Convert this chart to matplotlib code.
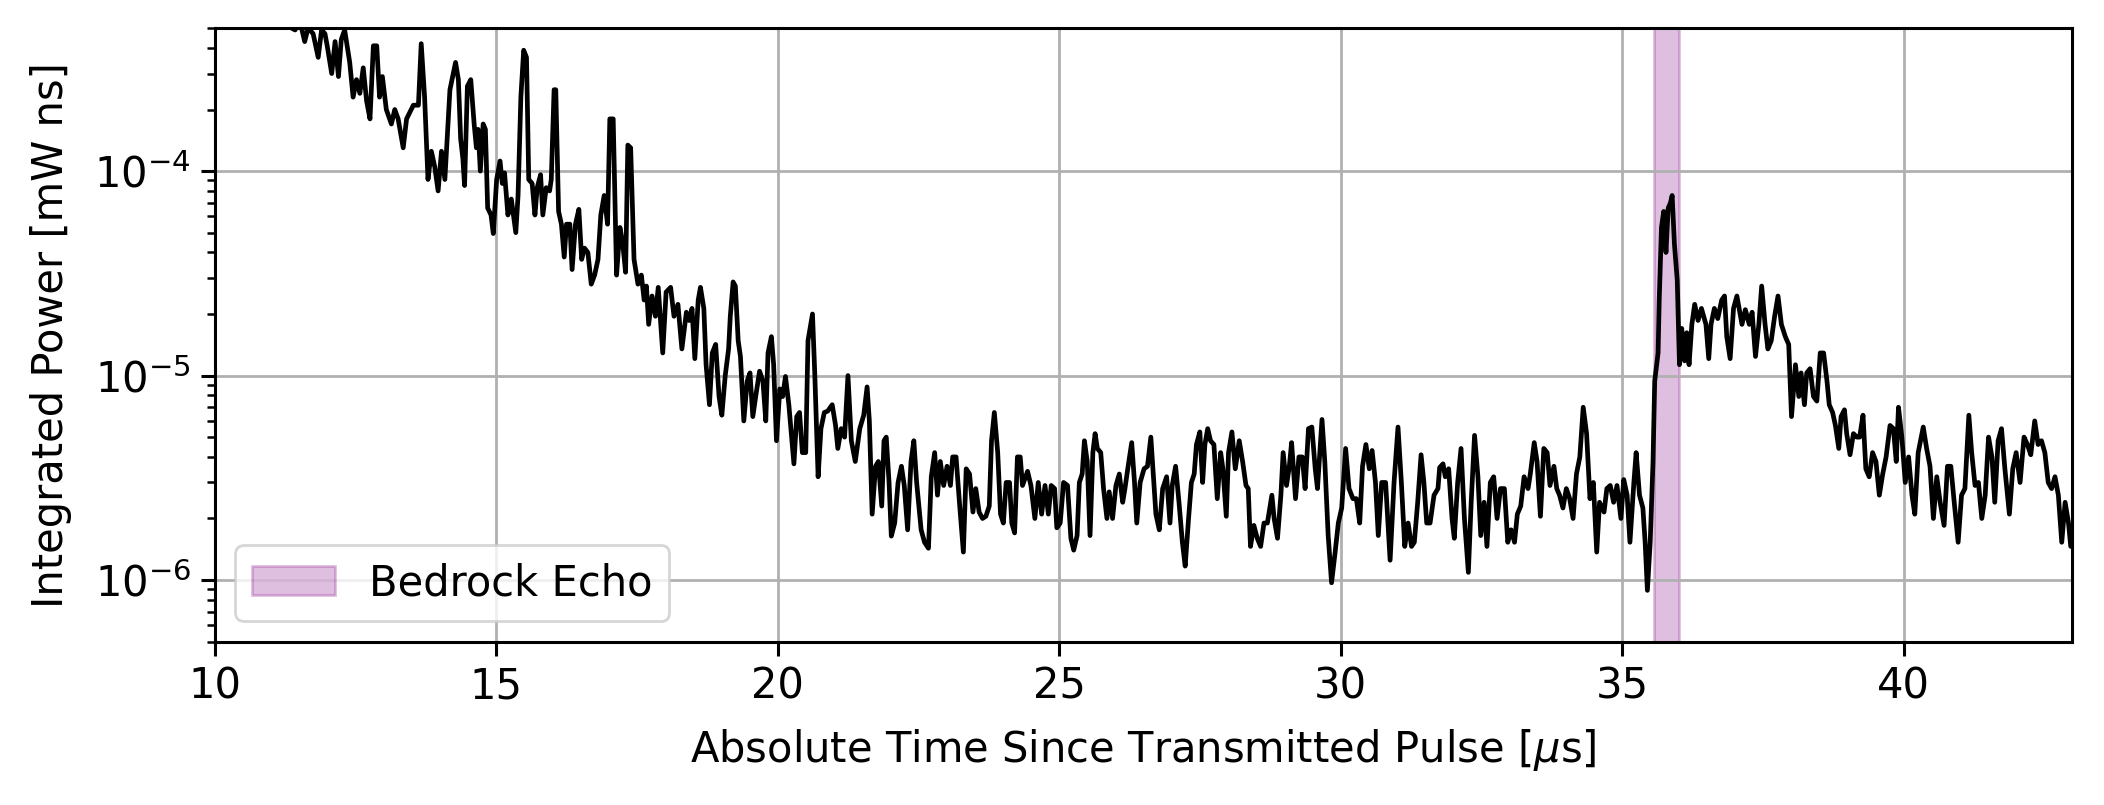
import numpy as np
import matplotlib.pyplot as plt

# trace, time in microseconds, power in mW ns
t_us = [
    10.00, 10.40, 10.80, 11.10, 11.30, 11.37, 11.43, 11.51, 11.60, 11.66, 11.75, 11.84, 11.90, 11.96, 12.00,
    12.08, 12.14, 12.20, 12.25, 12.31, 12.40, 12.46, 12.52, 12.58, 12.64, 12.70, 12.76, 12.82, 12.88,
    12.93, 12.98, 13.05, 13.14, 13.20, 13.26, 13.35, 13.41, 13.53, 13.62, 13.67, 13.73, 13.79, 13.85,
    13.91, 13.97, 14.03, 14.09,
    14.18, 14.24, 14.28, 14.33, 14.37, 14.41, 14.44, 14.49, 14.55, 14.61, 14.65, 14.68, 14.72, 14.77,
    14.81, 14.85, 14.91, 14.95, 15.01, 15.07, 15.11, 15.15, 15.21, 15.27, 15.35, 15.39, 15.44, 15.49,
    15.54, 15.58, 15.64, 15.69, 15.73, 15.79, 15.83, 15.89, 15.95, 15.98, 16.03, 16.06, 16.11, 16.16,
    16.21, 16.25, 16.31, 16.35, 16.41, 16.47, 16.52, 16.57, 16.63, 16.69, 16.75, 16.81, 16.86, 16.92,
    16.98, 17.02, 17.08, 17.14, 17.20, 17.25, 17.30, 17.34, 17.39, 17.45, 17.52, 17.58, 17.63, 17.67,
    17.71, 17.77, 17.83, 17.88, 17.96, 18.02, 18.10, 18.16, 18.23, 18.30,
    18.38, 18.43, 18.48, 18.53, 18.59, 18.63, 18.69, 18.73, 18.79, 18.84, 18.90, 18.96, 19.01, 19.07,
    19.13, 19.16, 19.21, 19.25, 19.30, 19.34, 19.40, 19.46, 19.51, 19.56, 19.62, 19.68, 19.74, 19.79,
    19.83, 19.89, 19.93, 19.98, 20.04, 20.09, 20.14, 20.20, 20.29, 20.34, 20.39, 20.44, 20.50, 20.54,
    20.62, 20.66, 20.72, 20.77, 20.83, 20.89, 20.97, 21.03, 21.07, 21.13, 21.19, 21.25, 21.31, 21.38,
    21.46, 21.53, 21.59, 21.63, 21.68, 21.74, 21.79, 21.85, 21.89, 21.93, 21.98, 22.02, 22.08, 22.14,
    22.20, 22.25, 22.31, 22.37, 22.42, 22.47,
    22.55, 22.61, 22.68, 22.73, 22.79, 22.84, 22.89, 22.95, 23.01, 23.07, 23.11, 23.17, 23.23, 23.30,
    23.35, 23.41, 23.47, 23.52, 23.58, 23.64, 23.70, 23.76, 23.80, 23.85, 23.91, 23.96, 24.01, 24.06,
    24.12, 24.16, 24.21, 24.26, 24.31, 24.35, 24.44, 24.50, 24.57, 24.63, 24.69, 24.75, 24.81, 24.86,
    24.92, 24.96, 25.02, 25.08, 25.15, 25.21, 25.26, 25.32, 25.36, 25.41, 25.45, 25.50, 25.55, 25.60,
    25.64, 25.68, 25.74, 25.79, 25.85, 25.89, 25.95, 26.01, 26.07, 26.13, 26.17, 26.22, 26.29, 26.34,
    26.38, 26.44, 26.51, 26.57, 26.63,
    26.72, 26.78, 26.84, 26.91, 26.97, 27.01, 27.07, 27.13, 27.19, 27.24, 27.30, 27.35, 27.40, 27.44,
    27.50, 27.55, 27.59, 27.64, 27.69, 27.75, 27.81, 27.87, 27.91, 27.97, 28.01, 28.07, 28.13, 28.20,
    28.26, 28.32, 28.36, 28.40, 28.46, 28.52, 28.58, 28.64, 28.70, 28.78, 28.82, 28.88, 28.94, 28.98,
    29.04, 29.09, 29.13, 29.20, 29.26, 29.32, 29.37, 29.43, 29.49, 29.55, 29.59, 29.67, 29.72, 29.78,
    29.84, 29.90, 29.96, 30.02, 30.09, 30.15, 30.22, 30.28, 30.34, 30.39, 30.45, 30.51, 30.56, 30.62,
    30.67, 30.73, 30.80,
    30.88, 30.95, 31.02, 31.08, 31.14, 31.20, 31.26, 31.31, 31.37, 31.43, 31.48, 31.53, 31.59, 31.66,
    31.73, 31.76, 31.82, 31.86, 31.92, 31.98, 32.02, 32.08, 32.14, 32.20, 32.27, 32.32, 32.38, 32.44,
    32.49, 32.55, 32.60, 32.66, 32.72, 32.78, 32.84, 32.91, 32.97, 33.03, 33.09, 33.14, 33.20, 33.26,
    33.33, 33.37, 33.44, 33.49, 33.55, 33.61, 33.67, 33.72, 33.79, 33.84, 33.89, 33.95, 34.01, 34.07,
    34.13, 34.19, 34.25, 34.31, 34.37, 34.43, 34.49, 34.55, 34.60, 34.68, 34.73, 34.79, 34.85, 34.91,
    34.98,
    35.03, 35.09, 35.14, 35.21, 35.25, 35.31, 35.37, 35.41, 35.45, 35.50, 35.55, 35.58, 35.64, 35.66,
    35.70, 35.74, 35.78, 35.82, 35.86, 35.89, 35.93, 35.98, 36.02, 36.06, 36.11, 36.15, 36.19, 36.24,
    36.29, 36.35, 36.41, 36.45, 36.49, 36.54, 36.58, 36.64, 36.70, 36.77, 36.82, 36.86, 36.92, 36.98,
    37.04, 37.08, 37.13, 37.19, 37.26, 37.31, 37.37, 37.43, 37.48, 37.54, 37.59, 37.65, 37.71, 37.77,
    37.83, 37.90, 37.96, 38.01, 38.08, 38.14, 38.18, 38.24, 38.28, 38.34, 38.40, 38.46, 38.52, 38.58,
    38.64, 38.68, 38.74, 38.79, 38.85, 38.89, 38.95, 38.99, 39.05, 39.11, 39.17,
    39.22, 39.28, 39.33, 39.39, 39.45, 39.51, 39.57, 39.63, 39.69, 39.76, 39.82, 39.87, 39.91, 39.97,
    40.03, 40.09, 40.15, 40.20, 40.26, 40.35, 40.41, 40.47, 40.53, 40.59, 40.65, 40.72, 40.78, 40.84,
    40.90, 40.97, 41.03, 41.09, 41.16, 41.21, 41.27, 41.33, 41.39, 41.45, 41.51, 41.57, 41.62, 41.68,
    41.74, 41.80, 41.88, 41.94, 42.00, 42.07, 42.14, 42.20, 42.26, 42.33, 42.39, 42.45, 42.51, 42.57,
    42.63, 42.69, 42.75, 42.81, 42.87, 42.93, 42.97, 43.00,
]

power = [
    1.6e-3, 1.2e-3, 9.0e-4, 7.0e-4, 6.0e-4, 5.0e-4, 4.9e-4, 5.5e-4, 4.3e-4, 5.0e-4, 4.7e-4, 3.6e-4, 4.9e-4, 4.7e-4, 4.1e-4,
    3.0e-4, 4.3e-4, 2.9e-4, 4.4e-4, 4.9e-4, 3.4e-4, 2.3e-4, 2.8e-4, 2.4e-4, 3.2e-4, 2.2e-4, 1.8e-4, 4.1e-4, 4.1e-4,
    2.3e-4, 2.9e-4, 2.0e-4, 1.7e-4, 2.0e-4, 1.8e-4, 1.3e-4, 1.8e-4, 2.1e-4, 2.1e-4, 4.2e-4, 2.3e-4, 9.1e-5, 1.25e-4,
    1.05e-4, 8.0e-5, 1.25e-4, 9.1e-5,
    2.5e-4, 3.0e-4, 3.4e-4, 2.8e-4, 1.44e-4, 1.15e-4, 8.5e-5, 2.6e-4, 2.8e-4, 1.7e-4, 1.3e-4, 1.6e-4, 1.0e-4, 1.7e-4,
    1.6e-4, 6.6e-5, 6.1e-5, 4.95e-5, 9.1e-5, 1.12e-4, 8.7e-5, 9.8e-5, 6.1e-5, 7.3e-5, 5.0e-5, 7.6e-5, 2.3e-4, 3.9e-4,
    3.6e-4, 9.1e-5, 8.7e-5, 6.1e-5, 8.3e-5, 9.6e-5, 6.1e-5, 8.3e-5, 8.0e-5, 9.1e-5, 2.5e-4, 2.5e-4, 6.35e-5, 5.5e-5,
    3.8e-5, 5.5e-5, 5.5e-5, 3.3e-5, 5.5e-5, 6.5e-5, 3.7e-5, 4.2e-5, 4.0e-5, 2.8e-5, 3.1e-5, 3.7e-5, 6.1e-5, 7.6e-5,
    5.5e-5, 1.8e-4, 1.8e-4, 3.1e-5, 5.3e-5, 4.4e-5, 3.2e-5, 1.34e-4, 1.3e-4, 3.7e-5, 2.8e-5, 3.1e-5, 2.34e-5, 2.74e-5,
    1.78e-5, 2.45e-5, 1.95e-5, 2.7e-5, 1.29e-5, 2.56e-5, 2.7e-5, 1.95e-5, 2.23e-5, 1.35e-5,
    2.04e-5, 1.86e-5, 2.13e-5, 1.21e-5, 2.34e-5, 2.7e-5, 2.13e-5, 1.13e-5, 7.2e-6, 1.29e-5, 1.42e-5, 7.9e-6, 6.4e-6, 1.0e-5,
    1.35e-5, 1.95e-5, 2.87e-5, 2.74e-5, 1.48e-5, 1.24e-5, 6.0e-6, 9.4e-6, 1.03e-5, 6.3e-6, 8.2e-6, 1.05e-5, 9.4e-6, 6.0e-6,
    1.29e-5, 1.55e-5, 1.13e-5, 4.8e-6, 8.6e-6, 7.9e-6, 9.9e-6, 7.2e-6, 3.7e-6, 6.3e-6, 6.6e-6, 4.2e-6, 4.2e-6, 1.48e-5,
    2.0e-5, 1.03e-5, 3.2e-6, 5.5e-6, 6.6e-6, 6.7e-6, 7.2e-6, 5.7e-6, 4.4e-6, 5.5e-6, 5.0e-6, 1.0e-5, 4.8e-6, 3.8e-6,
    5.5e-6, 6.4e-6, 8.8e-6, 6.0e-6, 2.1e-6, 3.6e-6, 3.8e-6, 2.3e-6, 4.8e-6, 5.0e-6, 3.0e-6, 1.64e-6, 1.9e-6, 3.0e-6,
    3.6e-6, 2.9e-6, 1.76e-6, 3.8e-6, 4.8e-6, 3.0e-6,
    1.76e-6, 1.53e-6, 1.43e-6, 3.2e-6, 4.2e-6, 2.6e-6, 3.8e-6, 2.9e-6, 3.6e-6, 2.9e-6, 4.0e-6, 4.0e-6, 2.4e-6, 1.37e-6,
    3.5e-6, 3.3e-6, 2.15e-6, 2.8e-6, 2.15e-6, 2.0e-6, 2.05e-6, 2.3e-6, 4.8e-6, 6.6e-6, 4.2e-6, 2.1e-6, 1.9e-6, 3.0e-6,
    3.0e-6, 1.9e-6, 1.7e-6, 4.0e-6, 4.0e-6, 2.9e-6, 3.4e-6, 2.9e-6, 2.0e-6, 3.0e-6, 2.1e-6, 2.9e-6, 2.1e-6, 2.9e-6,
    2.8e-6, 1.8e-6, 1.9e-6, 3.0e-6, 2.9e-6, 1.6e-6, 1.4e-6, 1.65e-6, 3.0e-6, 3.3e-6, 4.8e-6, 3.8e-6, 1.65e-6, 4.2e-6,
    5.2e-6, 4.4e-6, 4.2e-6, 2.8e-6, 2.0e-6, 2.7e-6, 2.0e-6, 2.9e-6, 3.3e-6, 2.4e-6, 2.8e-6, 3.5e-6, 4.7e-6, 3.0e-6,
    1.9e-6, 3.0e-6, 3.5e-6, 3.6e-6, 5.0e-6,
    2.1e-6, 1.76e-6, 2.8e-6, 3.2e-6, 1.9e-6, 2.9e-6, 3.6e-6, 2.4e-6, 1.53e-6, 1.17e-6, 2.0e-6, 3.0e-6, 3.3e-6, 4.6e-6,
    5.3e-6, 3.0e-6, 4.6e-6, 5.5e-6, 4.8e-6, 4.6e-6, 2.5e-6, 4.2e-6, 3.5e-6, 2.05e-6, 4.2e-6, 5.3e-6, 3.5e-6, 4.8e-6,
    3.8e-6, 2.9e-6, 2.8e-6, 1.46e-6, 1.85e-6, 1.6e-6, 1.46e-6, 1.9e-6, 1.9e-6, 2.6e-6, 2.0e-6, 1.6e-6, 2.6e-6, 4.2e-6,
    2.9e-6, 3.6e-6, 4.7e-6, 2.5e-6, 4.0e-6, 4.0e-6, 2.8e-6, 5.5e-6, 5.6e-6, 3.5e-6, 2.8e-6, 6.1e-6, 3.8e-6, 1.65e-6,
    9.7e-7, 1.34e-6, 1.9e-6, 2.25e-6, 4.4e-6, 2.8e-6, 2.5e-6, 2.5e-6, 1.9e-6, 3.6e-6, 4.6e-6, 3.5e-6, 4.3e-6, 3.0e-6,
    1.65e-6, 3.0e-6, 3.0e-6,
    1.25e-6, 3.0e-6, 5.6e-6, 3.0e-6, 1.46e-6, 1.9e-6, 1.46e-6, 1.53e-6, 2.4e-6, 4.1e-6, 3.0e-6, 1.9e-6, 1.9e-6, 2.6e-6,
    2.8e-6, 3.55e-6, 3.7e-6, 3.2e-6, 3.5e-6, 2.0e-6, 1.6e-6, 3.0e-6, 4.4e-6, 2.0e-6, 1.09e-6, 2.4e-6, 5.1e-6, 3.2e-6,
    1.65e-6, 2.4e-6, 1.46e-6, 3.0e-6, 3.2e-6, 2.0e-6, 2.8e-6, 2.8e-6, 1.53e-6, 1.76e-6, 1.53e-6, 2.1e-6, 2.3e-6, 3.2e-6,
    2.8e-6, 3.3e-6, 4.7e-6, 3.8e-6, 2.05e-6, 4.4e-6, 4.2e-6, 2.9e-6, 3.6e-6, 2.8e-6, 2.6e-6, 2.25e-6, 2.8e-6, 2.5e-6,
    2.0e-6, 3.3e-6, 4.0e-6, 7.0e-6, 5.2e-6, 2.5e-6, 3.0e-6, 1.37e-6, 2.4e-6, 2.15e-6, 2.8e-6, 2.9e-6, 2.4e-6, 2.9e-6,
    2.0e-6,
    3.1e-6, 2.6e-6, 1.53e-6, 3.0e-6, 4.2e-6, 2.6e-6, 2.25e-6, 1.53e-6, 8.9e-7, 1.53e-6, 3.8e-6, 9.4e-6, 1.29e-5, 2.34e-5,
    5.3e-5, 6.35e-5, 4.0e-5, 6.6e-5, 7.0e-5, 7.6e-5, 4.4e-5, 2.93e-5, 1.13e-5, 1.7e-5, 1.18e-5, 1.62e-5, 1.13e-5, 1.78e-5,
    2.23e-5, 1.86e-5, 2.13e-5, 1.95e-5, 1.78e-5, 1.21e-5, 1.78e-5, 2.13e-5, 1.9e-5, 2.34e-5, 2.45e-5, 1.55e-5, 1.21e-5, 2.13e-5,
    2.45e-5, 2.13e-5, 1.78e-5, 2.1e-5, 1.78e-5, 2.04e-5, 1.24e-5, 1.78e-5, 2.74e-5, 1.78e-5, 1.35e-5, 1.48e-5, 1.95e-5, 2.45e-5,
    1.78e-5, 1.55e-5, 1.42e-5, 6.3e-6, 1.13e-5, 7.9e-6, 1.03e-5, 7.2e-6, 1.03e-5, 1.08e-5, 7.9e-6, 7.5e-6, 1.29e-5, 1.29e-5,
    9.4e-6, 7.2e-6, 6.6e-6, 5.7e-6, 4.4e-6, 6.3e-6, 6.8e-6, 5.2e-6, 4.1e-6, 5.2e-6, 5.0e-6,
    5.0e-6, 6.4e-6, 3.5e-6, 3.2e-6, 4.2e-6, 3.8e-6, 2.6e-6, 3.3e-6, 4.0e-6, 5.7e-6, 5.5e-6, 3.8e-6, 7.0e-6, 5.0e-6,
    3.0e-6, 4.0e-6, 2.6e-6, 2.1e-6, 4.2e-6, 5.6e-6, 4.4e-6, 3.6e-6, 2.0e-6, 3.2e-6, 2.4e-6, 1.85e-6, 3.6e-6, 3.6e-6,
    2.4e-6, 1.53e-6, 2.6e-6, 2.8e-6, 6.4e-6, 4.2e-6, 2.9e-6, 3.0e-6, 2.0e-6, 2.6e-6, 5.0e-6, 4.0e-6, 2.4e-6, 4.8e-6,
    5.5e-6, 3.5e-6, 2.1e-6, 3.5e-6, 4.2e-6, 3.0e-6, 5.0e-6, 4.6e-6, 4.1e-6, 6.0e-6, 4.6e-6, 4.8e-6, 4.2e-6, 3.0e-6,
    2.8e-6, 3.2e-6, 2.6e-6, 1.53e-6, 2.4e-6, 1.9e-6, 1.46e-6, 1.5e-6,
]

echo_start = 35.56
echo_end = 36.02

fig, ax = plt.subplots(figsize=(10.52, 4.025), dpi=200)
fig.subplots_adjust(left=0.102, right=0.985, top=0.965, bottom=0.203)

ax.plot(t_us, power, color='black', linewidth=1.7)
ax.axvspan(echo_start, echo_end, color='purple', alpha=0.25, label='Bedrock Echo')

ax.set_yscale('log')
ax.set_xlim(10, 43)
ax.set_ylim(5e-7, 5e-4)
ax.grid(True, linewidth=1.0)
for s in ax.spines.values():
    s.set_linewidth(1.1)
ax.set_xlabel(r'Absolute Time Since Transmitted Pulse [$\mu$s]', fontsize=15, labelpad=7)
ax.set_ylabel('Integrated Power [mW ns]', fontsize=15, labelpad=8)
ax.tick_params(labelsize=15, width=1.1, length=5)
ax.tick_params(which='minor', width=0.9, length=3)
ax.legend(loc='lower left', fontsize=15)

plt.savefig('out.png', dpi=200)
